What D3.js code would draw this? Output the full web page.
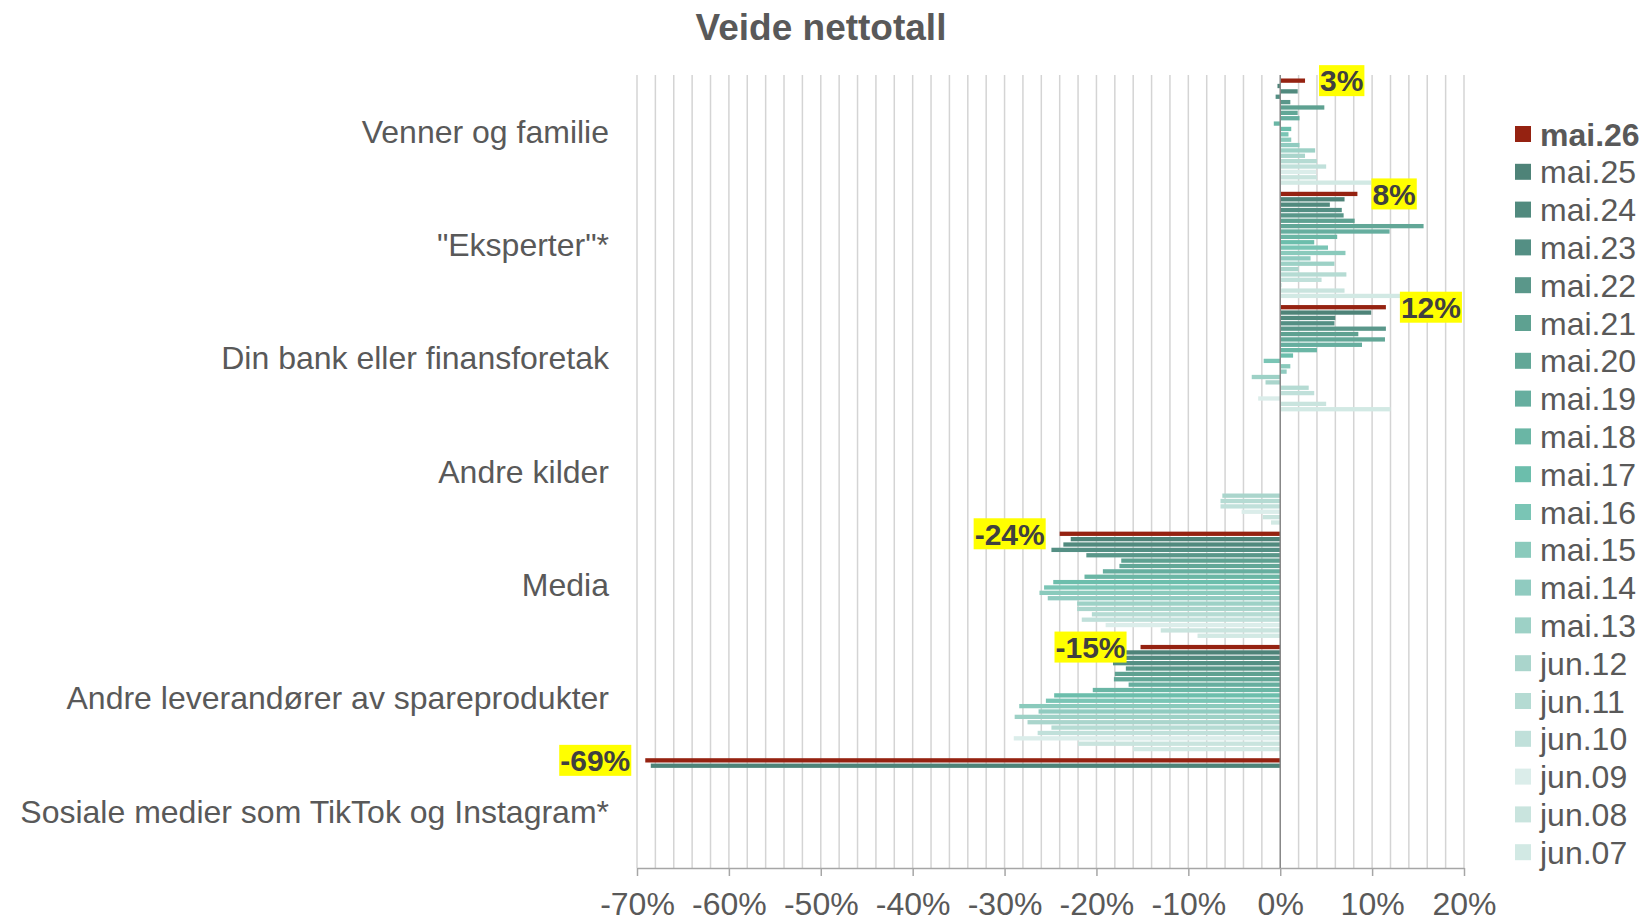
<!DOCTYPE html>
<html>
<head>
<meta charset="utf-8">
<script src="https://cdn.jsdelivr.net/npm/d3@7"></script>
<style>
  body { margin: 0; background: #fff; }
  text { font-family: Arial, "Liberation Sans", sans-serif; }
</style>
</head>
<body>
<svg id="chart" width="1642" height="922"></svg>
<script>
// categories (top to bottom)
const categories = [
  "Venner og familie",
  "\"Eksperter\"*",
  "Din bank eller finansforetak",
  "Andre kilder",
  "Media",
  "Andre leverandører av spareprodukter",
  "Sosiale medier som TikTok og Instagram*"
]

// series, newest first
const series = ["mai.26","mai.25","mai.24","mai.23","mai.22","mai.21","mai.20","mai.19","mai.18","mai.17",
  "mai.16","mai.15","mai.14","mai.13","jun.12","jun.11","jun.10","jun.09","jun.08","jun.07"]

const seriesColors = ["#952211","#4e8378","#518a7e","#548f84","#5a978a","#5ea191","#62a797","#66ae9f","#6ab6a5","#6cbeac",
  "#7ac5b5","#8acabc","#90cbc0","#9dd1c6","#aad5cc","#b5dbd3","#c0e0da","#dbedea","#c9e4de","#d2e9e4"]

// net values in %, one per series (same order as series), null = no data
const vennerOgFamilie = [2.7,-0.3,1.9,-0.5,1.1,4.8,1.9,2.1,-0.7,1.2,0.9,1.2,2.1,3.8,2.7,4.0,5.0,3.9,4.0,10.0]
const eksperter = [8.4,7.0,5.4,6.7,6.9,8.1,15.6,11.9,6.2,3.7,5.2,7.1,3.3,5.9,2.0,7.2,4.5,0.2,7.0,13.1]
const dinBank = [11.5,9.9,6.0,5.9,11.5,8.5,11.4,8.9,4.0,1.4,-1.8,1.1,0.7,-3.1,-1.6,3.1,3.7,-2.4,5.0,12.0]
const andreKilder = [null,null,null,null,null,null,null,null,null,null,null,null,null,null,-6.3,-6.5,-6.5,-4.2,-1.9,-1.0]
const media = [-24.0,-22.8,-23.6,-24.9,-21.1,-17.3,-17.5,-19.3,-21.3,-24.7,-25.7,-26.2,-25.3,-22.1,-22.1,-20.5,-21.6,-19.0,-13.0,-9.0]
const andreLeverandorer = [-15.2,-17.2,-17.8,-18.2,-16.8,-18.0,-18.1,-16.5,-20.4,-24.6,-25.5,-28.4,-26.3,-28.9,-27.5,-24.9,-26.4,-29.0,-22.0,-16.0]
const sosialeMedier = [-69.1,-68.5,null,null,null,null,null,null,null,null,null,null,null,null,null,null,null,null,null,null]

const values = [vennerOgFamilie, eksperter, dinBank, andreKilder, media, andreLeverandorer, sosialeMedier]

const xTicks = [-70,-60,-50,-40,-30,-20,-10,0,10,20]

var svg = d3.select("#chart")
var plotLeft = 637, plotRight = 1464, plotTop = 75, plotBottom = 868

var x = d3.scaleLinear().domain([-70, 20]).range([plotLeft, plotRight])
var y = d3.scaleBand().domain(categories).range([plotTop, plotBottom]).padding(0)
var ys = d3.scaleBand().domain(series).range([0, y.bandwidth()]).paddingInner(0.2).paddingOuter(0.65)

// title
svg.append("text")
  .attr("x", 821).attr("y", 40)
  .attr("text-anchor", "middle")
  .attr("font-size", "37px").attr("font-weight", "bold")
  .attr("fill", "#595959")
  .text("Veide nettotall")

// gridlines every 2%
svg.append("g").selectAll("line")
  .data(d3.range(-70, 21, 2).filter(d => d !== 0))
  .enter().append("line")
  .attr("x1", d => x(d)).attr("x2", d => x(d))
  .attr("y1", plotTop).attr("y2", plotBottom)
  .attr("stroke", "#d4d4d4").attr("stroke-width", 1.5)

// bottom axis
var xAxis = svg.append("g")
  .attr("transform", "translate(0," + plotBottom + ")")
  .call(d3.axisBottom(x).tickValues(xTicks).tickFormat(d => d + "%").tickSize(8).tickSizeOuter(0))
xAxis.select(".domain").attr("stroke", "#a6a6a6").attr("stroke-width", 1.5)
xAxis.selectAll(".tick line").attr("stroke", "#a6a6a6").attr("stroke-width", 1.5)
xAxis.selectAll(".tick text")
  .attr("y", 47).attr("dy", null)
  .attr("font-size", "32px").attr("fill", "#595959")
  .style("font-family", "Arial, 'Liberation Sans', sans-serif")

// category labels
svg.append("g").selectAll("text")
  .data(categories)
  .enter().append("text")
  .attr("x", plotLeft - 28)
  .attr("y", d => y(d) + y.bandwidth() / 2)
  .attr("dy", "0.35em")
  .attr("text-anchor", "end")
  .attr("font-size", "32px").attr("fill", "#595959")
  .text(d => d)

// bars
var rows = []
values.forEach((vals, ci) => {
  vals.forEach((v, si) => {
    if (v !== null) rows.push({cat: categories[ci], s: series[si], si: si, v: v})
  })
})

svg.append("g").selectAll("rect")
  .data(rows)
  .enter().append("rect")
  .attr("x", d => x(Math.min(0, d.v)))
  .attr("width", d => Math.abs(x(d.v) - x(0)))
  .attr("y", d => y(d.cat) + ys(d.s))
  .attr("height", ys.bandwidth())
  .attr("fill", d => seriesColors[d.si])

// zero line
svg.append("line")
  .attr("x1", x(0)).attr("x2", x(0))
  .attr("y1", plotTop).attr("y2", plotBottom)
  .attr("stroke", "#858585").attr("stroke-width", 1.5)

// value labels for the newest series
var labelRows = rows.filter(d => d.si === 0)
var lab = svg.append("g").selectAll("g")
  .data(labelRows)
  .enter().append("g")

lab.append("text")
  .attr("font-size", "30px").attr("font-weight", "bold")
  .attr("fill", "#404040")
  .attr("dy", "0.36em")
  .text(d => Math.round(d.v) + "%")
  .each(function(d) {
    var w = this.getComputedTextLength()
    var cy = y(d.cat) + ys(d.s) + ys.bandwidth() / 2
    var tx = d.v >= 0 ? x(d.v) + 15 : x(d.v) - 15 - w
    d3.select(this).attr("x", tx).attr("y", cy)
    d3.select(this.parentNode).insert("rect", "text")
      .attr("x", tx - 1).attr("y", cy - 15.5)
      .attr("width", w + 2).attr("height", 31)
      .attr("fill", "#ffff00")
  })

// legend
var leg = svg.append("g").selectAll("g")
  .data(series)
  .enter().append("g")
  .attr("transform", (d, i) => "translate(1515," + (134 + i * 37.8) + ")")

leg.append("rect")
  .attr("x", 0).attr("y", -8)
  .attr("width", 16).attr("height", 16)
  .attr("fill", (d, i) => seriesColors[i])

leg.append("text")
  .attr("x", 25).attr("dy", "0.36em")
  .attr("font-size", "32px").attr("fill", "#595959")
  .attr("font-weight", (d, i) => i === 0 ? "bold" : "normal")
  .text(d => d)
</script>
</body>
</html>
